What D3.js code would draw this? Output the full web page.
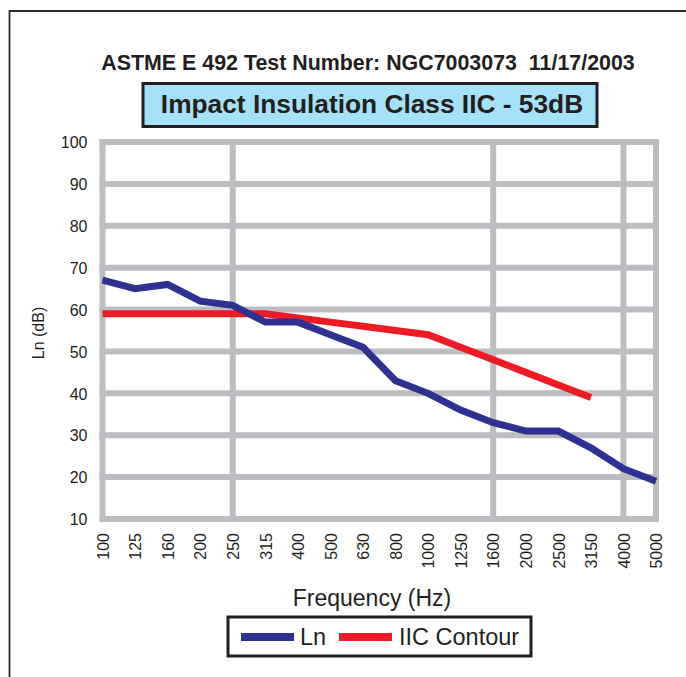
<!DOCTYPE html>
<html>
<head>
<meta charset="utf-8">
<script src="https://cdn.jsdelivr.net/npm/d3@7"></script>
<style>
  html, body { margin: 0; padding: 0; background: #fff; }
  svg { display: block; }
  text { font-family: "Liberation Sans", Arial, Helvetica, sans-serif; fill: #231f20; }
</style>
</head>
<body>
<svg id="chart" width="686" height="677"></svg>
<script>
// ---- data ----
const frequencies = ["100","125","160","200","250","315","400","500","630","800","1000","1250","1600","2000","2500","3150","4000","5000"];
const lnValues  = [67, 65, 66, 62, 61, 57, 57, 54, 51, 43, 40, 36, 33, 31, 31, 27, 22, 19];
const iicValues = [59, 59, 59, 59, 59, 59, 58, 57, 56, 55, 54, 51, 48, 45, 42, 39, null, null];
const yTicks = [10, 20, 30, 40, 50, 60, 70, 80, 90, 100];
const verticalGridAt = ["100", "250", "1600", "4000", "5000"];
const seriesNames = ["Ln", "IIC Contour"];
const titleText = "ASTME E 492 Test Number: NGC7003073  11/17/2003";
const boxText = "Impact Insulation Class IIC - 53dB";
const xTitle = "Frequency (Hz)";
const yTitle = "Ln (dB)";

// ---- layout ----
const svg = d3.select("#chart");
const x = d3.scalePoint().domain(frequencies).range([102.5, 656]);
const y = d3.scaleLinear().domain([10, 100]).range([519, 142]);
const gridColor = "#bcbdc0";
const blue = "#2e3192", red = "#ed1c24";

// outer frame
svg.append("path")
  .attr("d", "M9.5,690 L9.5,11 L700,11")
  .attr("fill", "none").attr("stroke", "#2b2b2b").attr("stroke-width", 1.8);

// title
svg.append("text")
  .attr("x", 368).attr("y", 70)
  .attr("text-anchor", "middle")
  .style("white-space", "pre")
  .attr("font-size", 21.4).attr("font-weight", "bold")
  .text(titleText);

// title box
svg.append("rect")
  .attr("x", 143).attr("y", 83.5).attr("width", 454).attr("height", 43)
  .attr("fill", "#a6e1fa").attr("stroke", "#231f20").attr("stroke-width", 3);
svg.append("text")
  .attr("x", 372).attr("y", 113)
  .attr("text-anchor", "middle")
  .attr("font-size", 26.3).attr("font-weight", "bold")
  .text(boxText);

// grid
const grid = svg.append("g");
grid.selectAll("line.h").data(yTicks).join("line")
  .attr("x1", x("100") - 3).attr("x2", x("5000") + 3)
  .attr("y1", d => y(d)).attr("y2", d => y(d))
  .attr("stroke", gridColor).attr("stroke-width", 6);
grid.selectAll("line.v").data(verticalGridAt).join("line")
  .attr("x1", d => x(d)).attr("x2", d => x(d))
  .attr("y1", y(100) - 3).attr("y2", y(10) + 3)
  .attr("stroke", gridColor).attr("stroke-width", 6);

// y axis labels
const yAxis = d3.axisLeft(y).tickValues(yTicks).tickSize(0).tickPadding(0);
const gy = svg.append("g").attr("transform", "translate(87.5,0)").call(yAxis);
gy.select(".domain").remove();
gy.selectAll("text").attr("font-size", 16).attr("font-family", null).attr("fill", "#231f20").attr("dy", "0.36em");

// x axis labels (rotated)
svg.append("g").selectAll("text").data(frequencies).join("text")
  .attr("transform", d => `translate(${x(d) + 0.5},533) rotate(-90)`)
  .attr("text-anchor", "end")
  .attr("dy", "0.36em")
  .attr("font-size", 16)
  .text(d => d);

// axis titles
svg.append("text")
  .attr("x", 372).attr("y", 606)
  .attr("text-anchor", "middle").attr("font-size", 23)
  .text(xTitle);
svg.append("text")
  .attr("transform", "translate(38,333) rotate(-90)")
  .attr("text-anchor", "middle").attr("dy", "0.36em").attr("font-size", 16)
  .text(yTitle);

// lines
const line = d3.line()
  .defined(d => d.v != null)
  .x(d => x(d.f)).y(d => y(d.v));
const iicData = frequencies.map((f, i) => ({f, v: iicValues[i]}));
const lnData = frequencies.map((f, i) => ({f, v: lnValues[i]}));
svg.append("path").datum(iicData)
  .attr("d", line).attr("fill", "none")
  .attr("stroke", red).attr("stroke-width", 7).attr("stroke-linejoin", "miter");
svg.append("path").datum(lnData)
  .attr("d", line).attr("fill", "none")
  .attr("stroke", blue).attr("stroke-width", 7).attr("stroke-linejoin", "miter");

// legend
const lg = svg.append("g");
lg.append("rect")
  .attr("x", 228).attr("y", 617).attr("width", 303).attr("height", 39)
  .attr("fill", "#fff").attr("stroke", "#231f20").attr("stroke-width", 3);
const legendItems = [
  {name: seriesNames[0], color: blue, x1: 241, x2: 294, tx: 300},
  {name: seriesNames[1], color: red, x1: 339, x2: 392, tx: 399}
];
legendItems.forEach(it => {
  lg.append("line").attr("x1", it.x1).attr("x2", it.x2).attr("y1", 637).attr("y2", 637)
    .attr("stroke", it.color).attr("stroke-width", 8);
  lg.append("text").attr("x", it.tx).attr("y", 645).attr("font-size", 23.5).text(it.name);
});
</script>
</body>
</html>
